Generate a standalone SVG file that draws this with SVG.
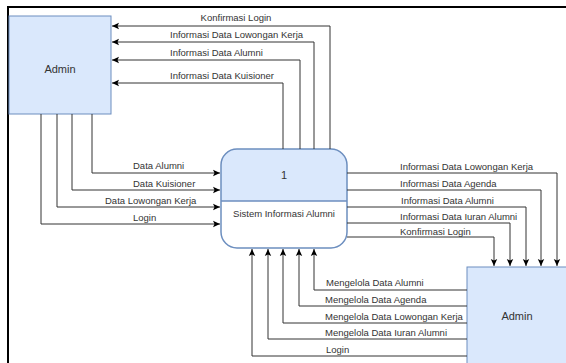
<svg xmlns="http://www.w3.org/2000/svg" width="566" height="363" viewBox="0 0 566 363">
<style>
.t{font-family:"Liberation Sans",Arial,sans-serif;font-size:9.5px;fill:#333}
.n{font-family:"Liberation Sans",Arial,sans-serif;font-size:11px;fill:#333}
.c{fill:none;stroke:#333;stroke-width:1;marker-end:url(#a)}
.box{fill:#dae8fc;stroke:#6c8ebf;stroke-width:1}
</style>
<defs>
<marker id="a" viewBox="0 0 8 8" refX="7" refY="4" markerWidth="8" markerHeight="8" markerUnits="userSpaceOnUse" orient="auto">
<path d="M0,0.8 L7,4 L0,7.2 L1.5,4 Z" fill="#000"/>
</marker>
<clipPath id="top"><rect x="210" y="140" width="150" height="61"/></clipPath>
</defs>
<rect width="566" height="363" fill="#fff"/>
<path d="M8,363 V7 H566" fill="none" stroke="#000" stroke-width="2"/>
<g id="admin1">
<rect class="box" x="9" y="16" width="102" height="98"/>
<text class="n" x="60" y="73" text-anchor="middle">Admin</text>
</g>
<g id="admin2">
<rect class="box" x="467" y="267" width="110" height="110"/>
<text class="n" x="517" y="320" text-anchor="middle">Admin</text>
</g>
<g id="process">
<rect x="221" y="149" width="126" height="99" rx="16" fill="#fff" stroke="none"/>
<rect x="221" y="149" width="126" height="99" rx="16" fill="#dae8fc" clip-path="url(#top)"/>
<rect x="221" y="149" width="126" height="99" rx="16" fill="none" stroke="#6c8ebf" stroke-width="1.5"/>
<line x1="221" y1="201" x2="347" y2="201" stroke="#6c8ebf" stroke-width="1.5"/>
<text class="n" x="284" y="179" text-anchor="middle">1</text>
<text class="t" x="284" y="217" text-anchor="middle">Sistem Informasi Alumni</text>
</g>
<g id="connectors">
<path class="c" d="M330,149 V26 H112"/>
<path class="c" d="M314,149 V42 H112"/>
<path class="c" d="M300,149 V60 H112"/>
<path class="c" d="M283,149 V83 H112"/>
<path class="c" d="M92,114 V173 H220"/>
<path class="c" d="M72,114 V190 H220"/>
<path class="c" d="M57,114 V207 H220"/>
<path class="c" d="M41,114 V224 H220"/>
<path class="c" d="M347,173 H557 V266"/>
<path class="c" d="M347,190 H541 V266"/>
<path class="c" d="M347,207 H526 V266"/>
<path class="c" d="M347,223 H510 V266"/>
<path class="c" d="M347,237 H494 V266"/>
<path class="c" d="M467,290 H314 V249"/>
<path class="c" d="M467,306 H299 V249"/>
<path class="c" d="M467,323 H283 V249"/>
<path class="c" d="M467,339 H268 V249"/>
<path class="c" d="M467,356 H252 V249"/>
</g>
<g id="labels">
<text class="t" x="236" y="21" text-anchor="middle">Konfirmasi Login</text>
<text class="t" x="170" y="38">Informasi Data Lowongan Kerja</text>
<text class="t" x="170" y="56">Informasi Data Alumni</text>
<text class="t" x="170" y="79">Informasi Data Kuisioner</text>
<text class="t" x="133" y="169">Data Alumni</text>
<text class="t" x="133" y="187">Data Kuisioner</text>
<text class="t" x="105" y="204">Data Lowongan Kerja</text>
<text class="t" x="133" y="221">Login</text>
<text class="t" x="400" y="170">Informasi Data Lowongan Kerja</text>
<text class="t" x="400" y="187">Informasi Data Agenda</text>
<text class="t" x="401" y="204">Informasi Data Alumni</text>
<text class="t" x="400" y="220">Informasi Data Iuran Alumni</text>
<text class="t" x="400" y="235">Konfirmasi Login</text>
<text class="t" x="326" y="286">Mengelola Data Alumni</text>
<text class="t" x="325" y="303">Mengelola Data Agenda</text>
<text class="t" x="325" y="320">Mengelola Data Lowongan Kerja</text>
<text class="t" x="325" y="336">Mengelola Data Iuran Alumni</text>
<text class="t" x="326" y="353">Login</text>
</g>
</svg>
